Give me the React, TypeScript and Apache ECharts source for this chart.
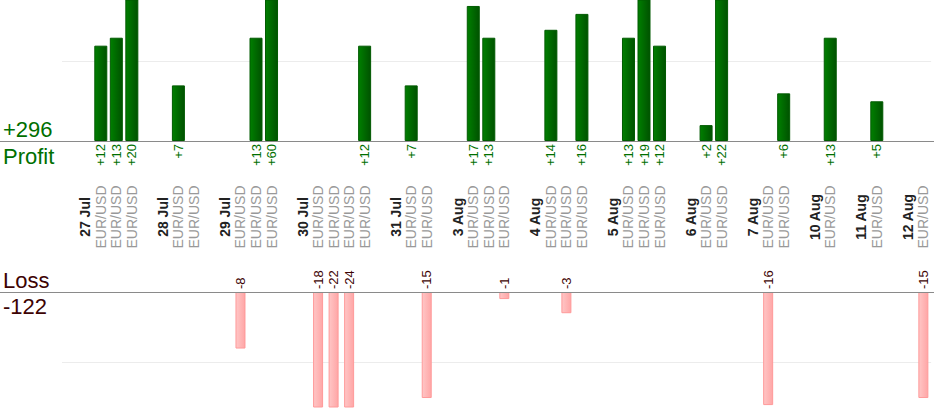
import React, { useEffect, useRef } from "react";
import * as echarts from "echarts";

const days = ["27 Jul", "28 Jul", "29 Jul", "30 Jul", "31 Jul", "3 Aug", "4 Aug", "5 Aug", "6 Aug", "7 Aug", "10 Aug", "11 Aug", "12 Aug"];
const tradesPerDay = [3, 2, 3, 4, 2, 3, 3, 3, 2, 2, 1, 1, 1];
const pair = "EUR/USD";
const results = [12, 13, 20, 7, 0, -8, 13, 60, -18, -22, -24, 12, 7, -15, 17, 13, -1, 14, -3, 16, 13, 19, 12, 2, 22, -16, 6, 13, 5, -15];
const profitMax = 17.75;
const lossMax = 16.27;
const gridStep = 10;

const FONT = "'Liberation Sans', Arial, Helvetica, sans-serif";
const GREEN = "#006f00";
const MAROON = "#3d0303";

export default function App() {
  const ref = useRef<HTMLDivElement>(null);

  useEffect(() => {
    document.body.style.margin = "0";
    if (!ref.current) return;
    const chart = echarts.init(ref.current, undefined, { renderer: "svg" });

    const slotLabels: string[] = [""];
    const slotKinds: string[] = ["gap"];
    const slotValues: (number | null)[] = [null];
    let k = 0;
    days.forEach((d, di) => {
      slotLabels.push(d);
      slotKinds.push("date");
      slotValues.push(null);
      for (let t = 0; t < tradesPerDay[di]; t++) {
        slotLabels.push(pair);
        slotKinds.push("trade");
        slotValues.push(results[k++]);
      }
      if (di < days.length - 1) {
        slotLabels.push("");
        slotKinds.push("gap");
        slotValues.push(null);
      }
    });

    const profitData = slotValues.map((v) => (v != null && v > 0 ? v : null));
    const lossData = slotValues.map((v) => (v != null && v < 0 ? -v : null));
    const totalProfit = results.filter((v) => v > 0).reduce((a, b) => a + b, 0);
    const totalLoss = results.filter((v) => v < 0).reduce((a, b) => a + b, 0);

    const slotW = 15.52;
    const gridLeft = 62;
    const gridWidth = slotW * slotLabels.length;

    const option: any = {
      animation: false,
      textStyle: { fontFamily: FONT },
      grid: [
        { left: gridLeft, top: 0, width: gridWidth, height: 141 },
        { left: gridLeft, top: 292, width: gridWidth, height: 115 },
      ],
      xAxis: [
        {
          type: "category",
          gridIndex: 0,
          data: slotLabels,
          axisLine: { show: false },
          axisTick: { show: false },
          axisLabel: {
            interval: 0,
            rotate: 90,
            align: "center",
            verticalAlign: "middle",
            margin: 76,
            fontSize: 14,
            fontFamily: FONT,
            color: "#999999",
            formatter: (value: string, index: number) => {
              const kind = slotKinds[index];
              if (kind === "date") return `{d|${value}}`;
              if (kind === "trade") return `{p|${value}}`;
              return "";
            },
            rich: {
              d: { fontFamily: FONT, fontSize: 14, fontWeight: "bold", color: "#222222" },
              p: { fontFamily: FONT, fontSize: 14, color: "#999999" },
            },
          },
        },
        {
          type: "category",
          gridIndex: 1,
          data: slotLabels,
          axisLine: { show: false },
          axisTick: { show: false },
          axisLabel: { show: false },
        },
      ],
      yAxis: [
        {
          type: "value",
          gridIndex: 0,
          min: 0,
          max: profitMax,
          interval: gridStep,
          axisLine: { show: false },
          axisTick: { show: false },
          axisLabel: { show: false },
          splitLine: { show: true, showMinLine: false, showMaxLine: false, lineStyle: { color: "#ececec", width: 1 } },
        },
        {
          type: "value",
          gridIndex: 1,
          inverse: true,
          min: 0,
          max: lossMax,
          interval: gridStep,
          axisLine: { show: false },
          axisTick: { show: false },
          axisLabel: { show: false },
          splitLine: { show: true, showMinLine: false, showMaxLine: false, lineStyle: { color: "#ececec", width: 1 } },
        },
      ],
      series: [
        {
          type: "bar",
          xAxisIndex: 0,
          yAxisIndex: 0,
          data: profitData,
          barWidth: 13,
          clip: true,
          itemStyle: {
            color: new echarts.graphic.LinearGradient(0, 0, 1, 0, [
              { offset: 0, color: "#007f00" },
              { offset: 1, color: "#005200" },
            ]),
            borderColor: "#005a00",
            borderWidth: 1,
          },
          label: {
            show: true,
            position: "bottom",
            distance: 3,
            rotate: 90,
            align: "right",
            verticalAlign: "middle",
            fontFamily: FONT,
            fontSize: 13,
            color: GREEN,
            formatter: (p: any) => "+" + p.value,
          },
        },
        {
          type: "bar",
          xAxisIndex: 1,
          yAxisIndex: 1,
          data: lossData,
          barWidth: 10,
          clip: true,
          itemStyle: {
            color: new echarts.graphic.LinearGradient(0, 0, 1, 0, [
              { offset: 0, color: "#ffc6c6" },
              { offset: 1, color: "#ffa6a6" },
            ]),
            borderColor: "#ff9a9a",
            borderWidth: 1,
          },
          label: {
            show: true,
            position: "top",
            distance: 3,
            rotate: 90,
            align: "left",
            verticalAlign: "middle",
            fontFamily: FONT,
            fontSize: 13,
            color: MAROON,
            formatter: (p: any) => "-" + p.value,
          },
        },
      ],
      graphic: [
        { type: "line", shape: { x1: 0, y1: 141.5, x2: 934, y2: 141.5 }, style: { stroke: "#8a8a8a", lineWidth: 1 }, z: 10 },
        { type: "line", shape: { x1: 0, y1: 292.5, x2: 934, y2: 292.5 }, style: { stroke: "#8a8a8a", lineWidth: 1 }, z: 10 },
        { type: "text", x: 3, y: 129.5, style: { text: "+" + totalProfit, font: `22px ${FONT}`, fill: GREEN, verticalAlign: "middle" } },
        { type: "text", x: 3, y: 156, style: { text: "Profit", font: `22px ${FONT}`, fill: GREEN, verticalAlign: "middle" } },
        { type: "text", x: 3, y: 280, style: { text: "Loss", font: `22px ${FONT}`, fill: MAROON, verticalAlign: "middle" } },
        { type: "text", x: 3, y: 306, style: { text: String(totalLoss), font: `22px ${FONT}`, fill: MAROON, verticalAlign: "middle" } },
      ],
    };

    chart.setOption(option);
    return () => chart.dispose();
  }, []);

  return <div ref={ref} style={{ position: "absolute", left: 0, top: 0, width: 934, height: 420 }} />;
}
